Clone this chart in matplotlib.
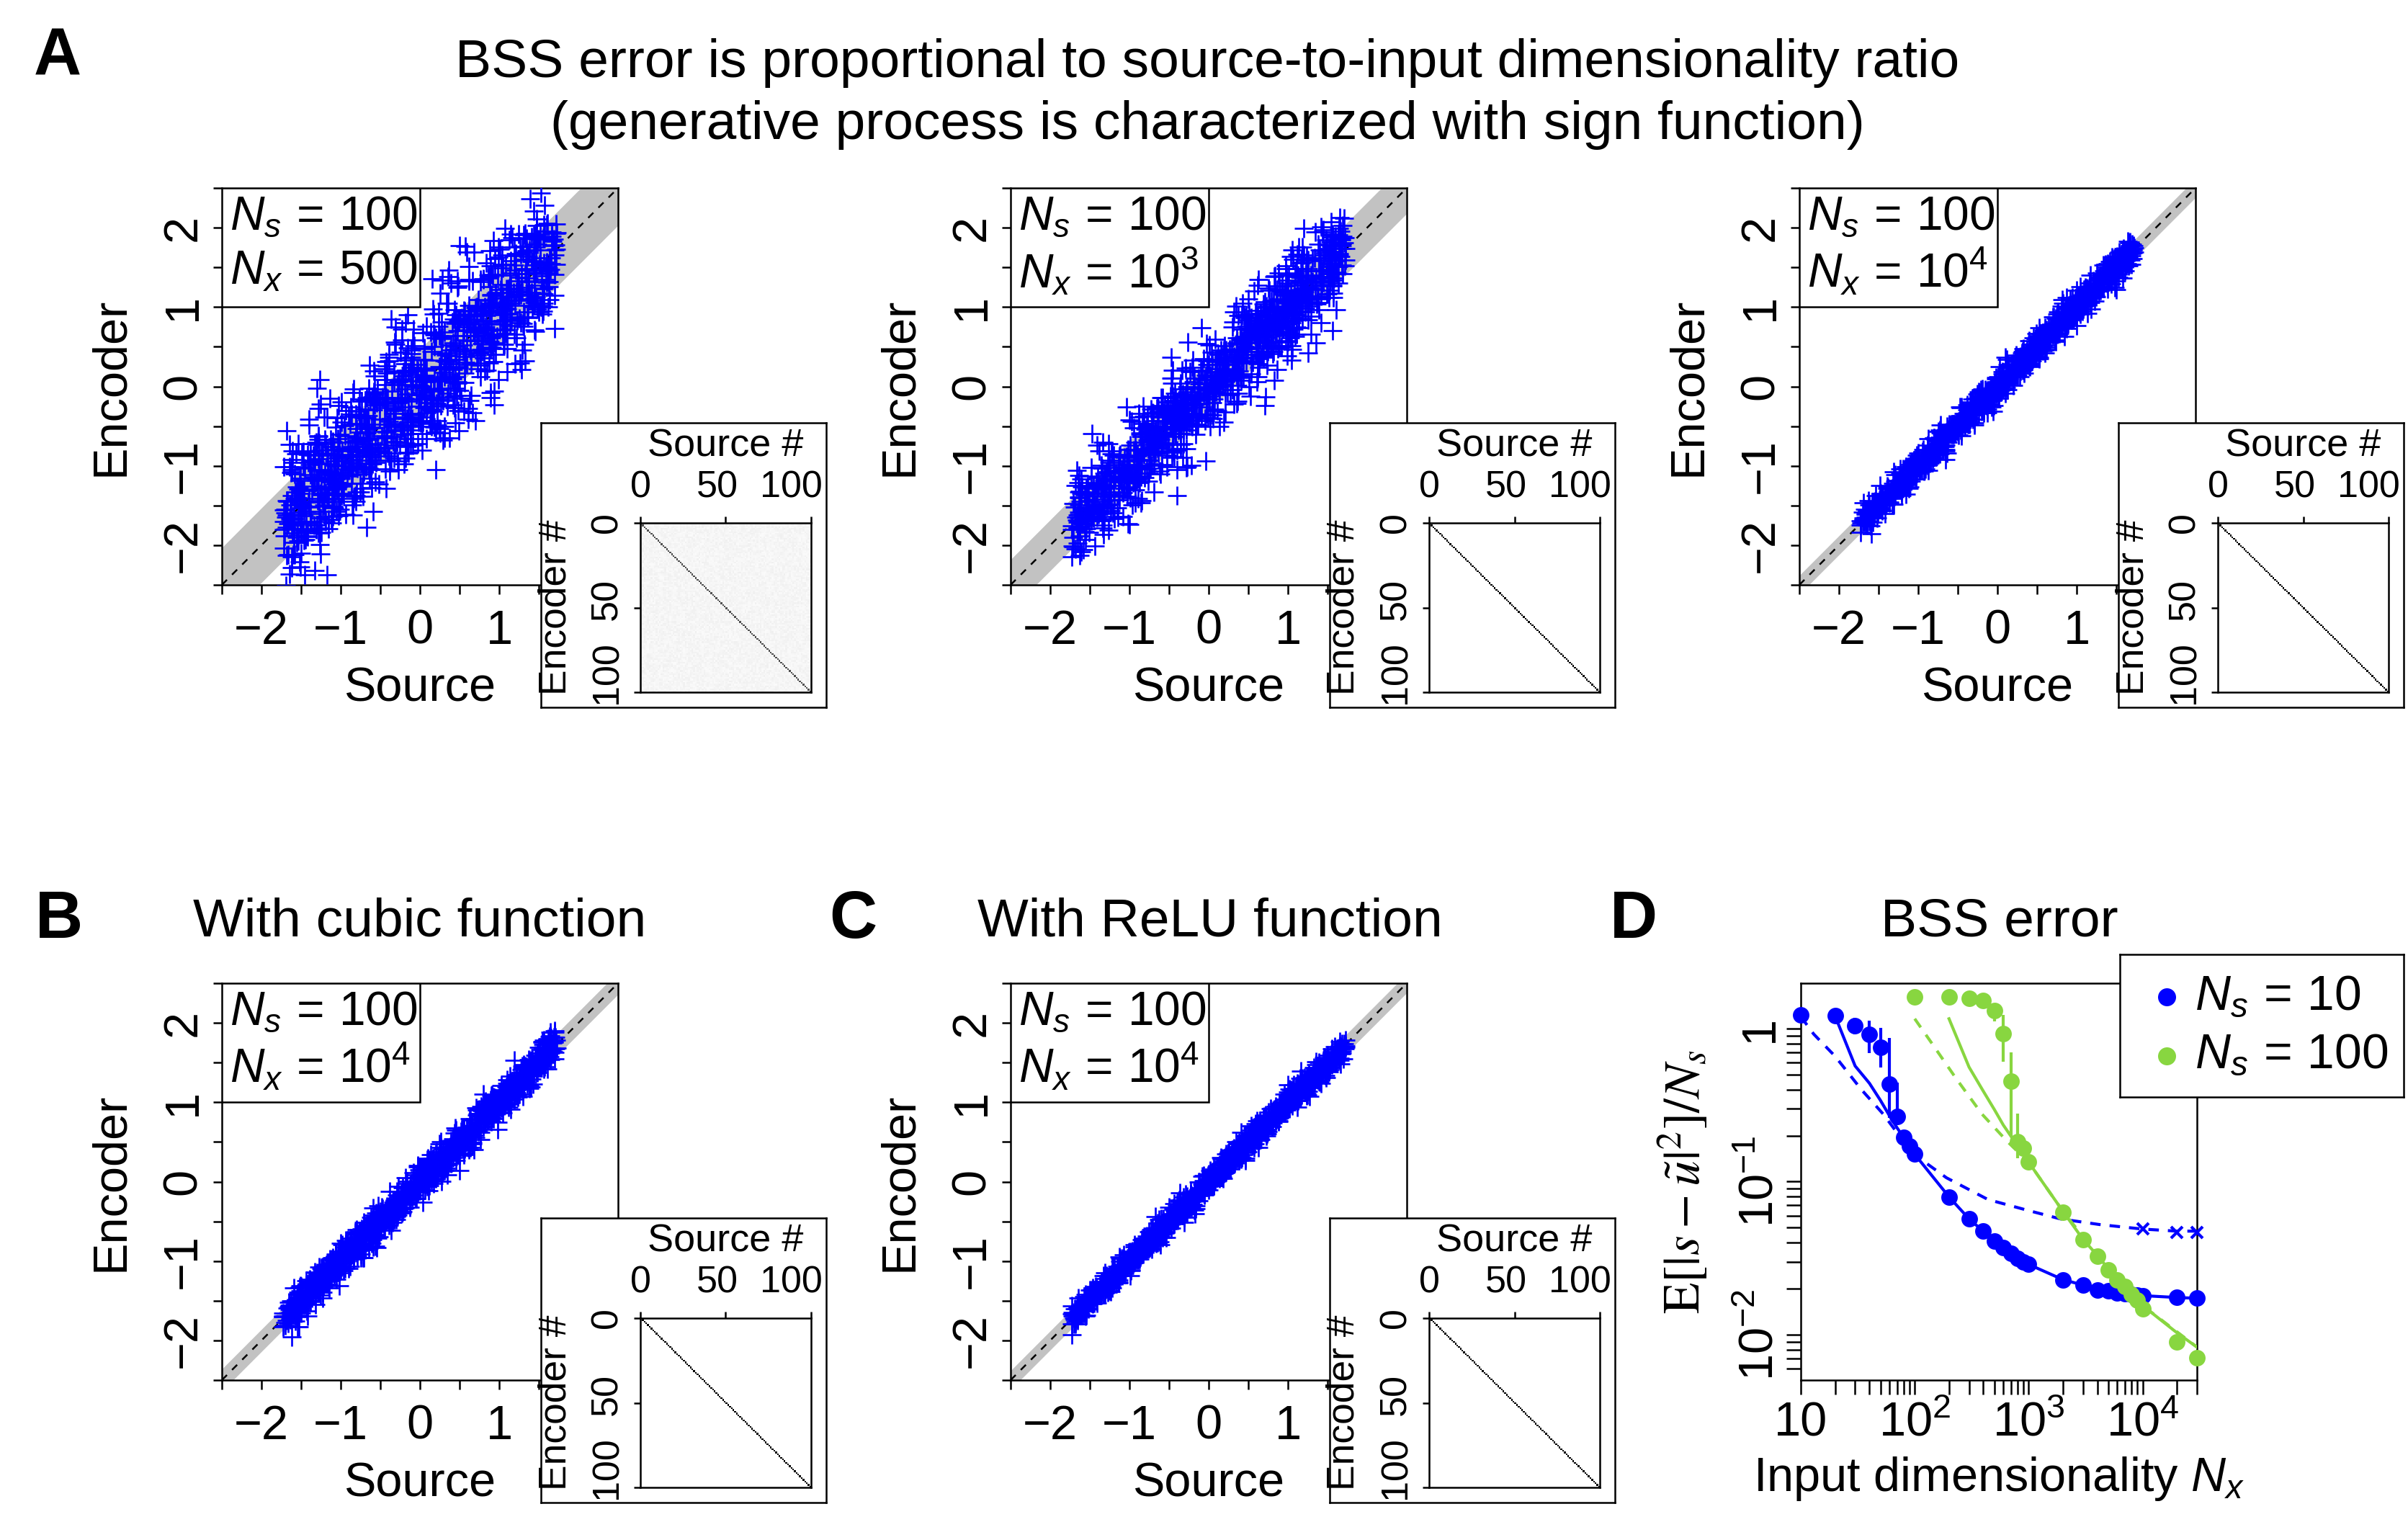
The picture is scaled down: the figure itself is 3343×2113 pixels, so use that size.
import numpy as np
import matplotlib
matplotlib.use('Agg')
import matplotlib.pyplot as plt
from matplotlib.patches import Rectangle
from matplotlib.transforms import blended_transform_factory

# ---------------- data ----------------
# scatter panels (A1, A2, A3, B, C)
panel_ns_label = ['100', '100', '100', '100', '100']
panel_nx_label = ['500', '10^3', '10^4', '10^4', '10^4']
panel_noise_sd = [0.45, 0.30, 0.09, 0.11, 0.075]       # spread of encoder around source
panel_band_half = [0.47, 0.32, 0.12, 0.14, 0.12]       # grey band half-width
panel_mat_diag = [0.75, 1.0, 1.0, 1.0, 1.0]            # inset matrix diagonal strength
panel_mat_bg = [0.12, 0.0, 0.0, 0.0, 0.0]              # inset matrix background level
n_points = 1000
source_limit = np.sqrt(3.0)
scatter_ticks = [-2.5, -2.0, -1.5, -1.0, -0.5, 0.0, 0.5, 1.0, 1.5, 2.0, 2.5]
scatter_yticklabels = ['', '\u22122', '', '\u22121', '', '0', '', '1', '', '2', '']
# the "2" on the x axis is covered by the inset in the original figure
scatter_xticklabels = ['', '\u22122', '', '\u22121', '', '0', '', '1', '', '', '']
inset_ticks = [0, 50, 100]
inset_ticklabels = ['0', '50', '100']
inset_label_pos = [0, 45, 88.5]

# panel D : BSS error
blue_x = [10, 20, 30, 40, 50, 60, 70, 80, 90, 100, 200, 300, 400, 500, 600, 700, 800, 900,
          1000, 2000, 3000, 4000, 5000, 6000, 7000, 8000, 9000, 10000, 20000, 30000]
blue_y = [1.23, 1.21, 1.04, 0.92, 0.757, 0.433, 0.267, 0.194, 0.171, 0.151, 0.0795, 0.0571,
          0.0474, 0.041, 0.037, 0.034, 0.0315, 0.030, 0.0288, 0.0229, 0.0211, 0.0195, 0.0193,
          0.0188, 0.0186, 0.0184, 0.0182, 0.0180, 0.0175, 0.0173]
blue_err_x = [20, 30, 40, 50, 60, 70]
blue_err_lo = [1.09, 0.92, 0.694, 0.56, 0.26, 0.234]
blue_err_hi = [1.34, 1.18, 1.13, 1.01, 0.865, 0.445]
blue_line_x = [20, 30, 40, 50, 60, 70, 80, 90, 100, 200, 300, 400, 500, 600, 700, 800, 900,
               1000, 2000, 3000, 4000, 5000, 6000, 7000, 8000, 9000, 10000, 20000, 30000]
blue_line_y = [1.21, 0.57, 0.44, 0.34, 0.27, 0.225, 0.194, 0.171, 0.151, 0.0795, 0.0571,
               0.0474, 0.041, 0.037, 0.034, 0.0315, 0.030, 0.0288, 0.0229, 0.0211, 0.0195,
               0.0193, 0.0188, 0.0186, 0.0184, 0.0182, 0.0180, 0.0175, 0.0173]
blue_dash_x = [10, 13, 20, 34, 53, 68, 95, 190, 440, 1000, 1900, 4150, 10000, 20000, 30000]
blue_dash_y = [1.2, 0.92, 0.66, 0.40, 0.276, 0.215, 0.154, 0.106, 0.0764, 0.0647, 0.0571,
               0.0525, 0.049, 0.0475, 0.0475]
blue_cross_x = [10000, 20000, 30000]
blue_cross_y = [0.049, 0.0464, 0.0466]

green_x = [100, 200, 300, 400, 500, 600, 700, 800, 900, 1000, 2000, 3000, 4000, 5000, 6000,
           7000, 8000, 9000, 10000, 20000, 30000]
green_y = [1.61, 1.61, 1.58, 1.53, 1.31, 0.93, 0.455, 0.183, 0.165, 0.134, 0.0633, 0.0419,
           0.0327, 0.0265, 0.0229, 0.0207, 0.0183, 0.0168, 0.0148, 0.0090, 0.00704]
green_err_x = [500, 600, 700, 800]
green_err_lo = [1.11, 0.61, 0.198, 0.142]
green_err_hi = [1.39, 1.23, 0.703, 0.277]
green_line_x = [200, 300, 400, 500, 600, 700, 800, 900, 1000, 2000, 3000, 4000, 5000, 6000,
                7000, 8000, 9000, 10000, 20000, 30000]
green_line_y = [1.16, 0.56, 0.39, 0.296, 0.234, 0.198, 0.17, 0.15, 0.134, 0.064, 0.042, 0.033,
                0.027, 0.023, 0.0205, 0.0185, 0.017, 0.0155, 0.0103, 0.0083]
green_dash_x = [100, 140, 230, 390, 650, 1000, 2000, 5000, 10000, 30000]
green_dash_y = [1.16, 0.81, 0.474, 0.276, 0.183, 0.134, 0.064, 0.027, 0.0155, 0.0083]

legend_labels = [r'$N_s\,=\,10$', r'$N_s\,=\,100$']
BLUE = '#0000ff'
GREEN = '#88d640'

# ---------------- style ----------------
W, H, DPI = 3343, 2113, 300
plt.rcParams['font.family'] = ['Liberation Sans', 'DejaVu Sans']
plt.rcParams['mathtext.fontset'] = 'custom'
plt.rcParams['mathtext.rm'] = 'Liberation Sans'
plt.rcParams['mathtext.it'] = 'Liberation Sans:italic'
plt.rcParams['mathtext.bf'] = 'Liberation Sans:bold'
plt.rcParams['axes.linewidth'] = 0.6


def pt(p):
    return p * 72.0 / DPI


def frect(x, y, w, h):
    return [x / W, 1 - (y + h) / H, w / W, h / H]


fig = plt.figure(figsize=(W / DPI, H / DPI), dpi=DPI)
fig.patch.set_facecolor('white')

rng = np.random.default_rng(7)

lefts = [308, 1403, 2498, 308, 1403]
tops = [261, 261, 261, 1365, 1365]
AXW, AXH = 550, 551
FS_LAB = 16
FS_TITLE = 18
FS_TICK = 16
FS_IN = 12.5
FS_BOX = 15.8

for i in range(5):
    L, T = lefts[i], tops[i]
    ax = fig.add_axes(frect(L, T, AXW, AXH))
    ax.set_xlim(-2.5, 2.5)
    ax.set_ylim(-2.5, 2.5)
    b = panel_band_half[i]
    ax.fill_between([-2.5, 2.5], [-2.5 - b, 2.5 - b], [-2.5 + b, 2.5 + b],
                    color='#c2c2c2', lw=0, zorder=1)
    ax.plot([-2.5, 2.5], [-2.5, 2.5], color='k', lw=0.6, ls=(0, (4, 4)), zorder=2)
    src = rng.uniform(-source_limit, source_limit, n_points)
    enc = src + rng.normal(0, panel_noise_sd[i], n_points)
    ax.plot(src, enc, ls='none', marker='+', color=BLUE, ms=6.3, mew=0.65, zorder=3)
    ax.set_xticks(scatter_ticks)
    ax.set_xticklabels(scatter_xticklabels)
    ax.set_yticks(scatter_ticks)
    ax.set_yticklabels(scatter_yticklabels, rotation=90, va='center')
    ax.tick_params(axis='both', direction='out', length=pt(12.5), width=0.6,
                   labelsize=FS_TICK)
    ax.tick_params(axis='x', pad=pt(21))
    ax.tick_params(axis='y', pad=pt(10))
    ax.text(0.5, -145 / AXH, 'Source', transform=ax.transAxes, ha='center', va='center',
            fontsize=FS_LAB)
    ax.text(-154 / AXW, 0.5, 'Encoder', transform=ax.transAxes, ha='center', va='center',
            fontsize=FS_LAB, rotation=90)
    ax.add_patch(Rectangle((-2.5, 1.0), 2.5, 1.5, fc='white', ec='k', lw=0.6, zorder=4))
    ax.text(-2.40, 2.13, r'$N_s\,=\,' + panel_ns_label[i] + '$', fontsize=FS_BOX,
            ha='left', va='center', zorder=5)
    ax.text(-2.40, 1.44, r'$N_x\,=\,' + panel_nx_label[i] + '$', fontsize=FS_BOX,
            ha='left', va='center', zorder=5)

    # inset
    ob = fig.add_axes(frect(L + 443, T + 326, 396, 395))
    ob.set_zorder(5)
    ob.set_facecolor('white')
    ob.set_xticks([])
    ob.set_yticks([])
    iax = fig.add_axes(frect(L + 581, T + 465, 237, 235))
    iax.set_zorder(6)
    mat = panel_mat_diag[i] * np.eye(100)
    if panel_mat_bg[i] > 0:
        mat = mat + panel_mat_bg[i] * rng.uniform(0.3, 1.0, (100, 100)) * (1 - np.eye(100))
    iax.imshow(mat, cmap='Greys', vmin=0, vmax=1, extent=[0, 100, 100, 0], aspect='auto',
               interpolation='nearest')
    iax.set_xlim(0, 100)
    iax.set_ylim(100, 0)
    iax.set_xticks(inset_ticks)
    iax.set_yticks(inset_ticks)
    iax.set_xticklabels([])
    iax.set_yticklabels([])
    iax.xaxis.tick_top()
    iax.tick_params(axis='both', direction='out', length=pt(9), width=0.6)
    tx = blended_transform_factory(iax.transData, iax.transAxes)
    ty = blended_transform_factory(iax.transAxes, iax.transData)
    for pos, lab in zip(inset_label_pos, inset_ticklabels):
        iax.text(pos, 1 + 49 / 235, lab, transform=tx, ha='center', va='center',
                 fontsize=FS_IN)
        iax.text(-46 / 237, pos, lab, transform=ty, ha='center', va='center',
                 fontsize=FS_IN, rotation=90)
    iax.text(0.5, 1 + 106 / 235, 'Source #', transform=iax.transAxes, ha='center',
             va='center', fontsize=FS_IN + 0.5)
    iax.text(-118 / 237, 0.5, 'Encoder #', transform=iax.transAxes, ha='center',
             va='center', fontsize=FS_IN + 0.3, rotation=90)

# ---------------- panel D ----------------
ax = fig.add_axes(frect(2500, 1365, 550, 551))
ax.set_xscale('log')
ax.set_yscale('log')
ax.set_xlim(10, 30000)
ax.set_ylim(0.00505, 1.98)

LW_D = 1.0
ax.plot(blue_dash_x, blue_dash_y, color=BLUE, lw=LW_D, ls=(0, (3.5, 3)), zorder=2)
ax.plot(blue_line_x, blue_line_y, color=BLUE, lw=LW_D, zorder=2)
ax.vlines(blue_err_x, blue_err_lo, blue_err_hi, color=BLUE, lw=LW_D, zorder=2)
ax.plot(blue_x, blue_y, ls='none', marker='o', ms=5.5, color=BLUE, mew=0, zorder=3,
        clip_on=False)
ax.plot(blue_cross_x, blue_cross_y, ls='none', marker='x', ms=3.8, mew=1.0, color=BLUE,
        zorder=3, clip_on=False)
ax.plot(green_dash_x, green_dash_y, color=GREEN, lw=LW_D, ls=(0, (3.5, 3)), zorder=4)
ax.plot(green_line_x, green_line_y, color=GREEN, lw=LW_D, zorder=4)
ax.vlines(green_err_x, green_err_lo, green_err_hi, color=GREEN, lw=LW_D, zorder=4)
ax.plot(green_x, green_y, ls='none', marker='o', ms=5.5, color=GREEN, mew=0, zorder=5,
        clip_on=False)

ax.set_xticks([10, 100, 1000, 10000])
ax.set_xticklabels(['10', '$10^2$', '$10^3$', '$10^4$'])
ax.set_xticks([v * d for d in (10, 100, 1000) for v in range(2, 10)] + [20000, 30000],
              minor=True)
ax.set_yticks([0.01, 0.1, 1])
ax.set_yticklabels(['$10^{-2}$', '$10^{-1}$', '1'], rotation=90, va='center')
ax.set_yticks([v * d for d in (0.001, 0.01, 0.1) for v in range(2, 10) if v * d > 0.00504],
              minor=True)
ax.yaxis.set_minor_formatter(matplotlib.ticker.NullFormatter())
ax.xaxis.set_minor_formatter(matplotlib.ticker.NullFormatter())
ax.tick_params(which='both', direction='out', length=pt(20), width=0.6, labelsize=FS_TICK)
ax.tick_params(axis='x', which='both', pad=pt(10))
ax.tick_params(axis='y', which='both', pad=pt(5))
ax.text(0.5, -(2053 - 1916) / 551, 'Input dimensionality $N_x$', transform=ax.transAxes,
        ha='center', va='center', fontsize=FS_LAB)
ax.text(-(2500 - 2338) / 550, 0.5, r'$\mathrm{E}[|s-\tilde{u}|^2]/N_s$',
        transform=ax.transAxes, ha='center', va='center', fontsize=FS_LAB + 1, rotation=90,
        math_fontfamily='stix')

# legend box
lax = fig.add_axes(frect(2943, 1325, 394, 198))
lax.set_zorder(7)
lax.set_xlim(0, 1)
lax.set_ylim(0, 1)
lax.set_xticks([])
lax.set_yticks([])
lax.set_facecolor('white')
for yy, col, lab in [(0.70, BLUE, legend_labels[0]), (0.29, GREEN, legend_labels[1])]:
    lax.plot([0.165], [yy], marker='o', ms=6.0, color=col, mew=0)
    lax.text(0.265, yy, lab, ha='left', va='center', fontsize=FS_BOX + 0.5)

# ---------------- titles & letters ----------------
def ftext(x, y, s, **kw):
    fig.text(x / W, 1 - y / H, s, ha='center', va='center', **kw)

ftext(1676, 88, 'BSS error is proportional to source-to-input dimensionality ratio',
      fontsize=FS_TITLE)
ftext(1676, 174, '(generative process is characterized with sign function)',
      fontsize=FS_TITLE)
ftext(583, 1280, 'With cubic function', fontsize=FS_TITLE)
ftext(1680, 1280, 'With ReLU function', fontsize=FS_TITLE)
ftext(2776, 1280, 'BSS error', fontsize=FS_TITLE)
for (x, y, s) in [(80, 80, 'A'), (82, 1278, 'B'), (1184, 1278, 'C'), (2268, 1278, 'D')]:
    ftext(x, y, s, fontsize=22, fontweight='bold')

fig.savefig('out.png', dpi=DPI, facecolor='white')
